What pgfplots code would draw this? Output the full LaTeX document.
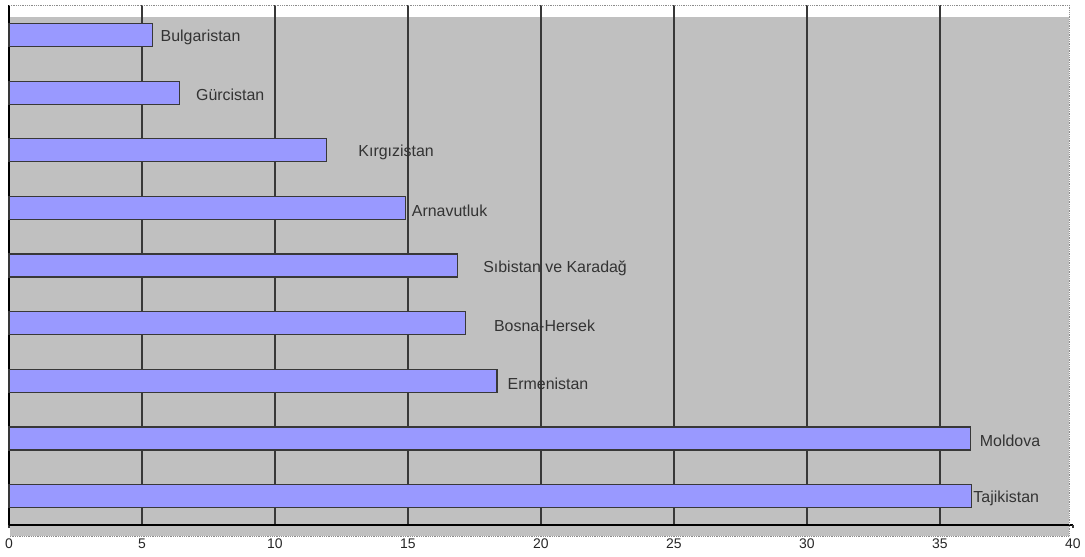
\documentclass[border=0pt]{standalone}
\usepackage{pgfplots}
\pgfplotsset{compat=1.18}
\usepackage{pgfplotstable}
\usepackage{fontspec}
\setmainfont{Liberation Sans}

\definecolor{barfill}{HTML}{9999FF}
\definecolor{plotgray}{HTML}{C0C0C0}
\definecolor{gridc}{HTML}{383838}

% value, position (1 = bottom), label, label offset in bp
\pgfplotstableread[col sep=comma]{
val,pos,label,off
36.2,1,Tajikistan,1
36.14,2,Moldova,9
18.35,3,Ermenistan,10
17.16,4,Bosna-Hersek,28
16.87,5,Sıbistan ve Karadağ,25
14.9,6,Arnavutluk,6
11.95,7,Kırgızistan,31
6.41,8,Gürcistan,16
5.38,9,Bulgaristan,8
}\datatable

\begin{document}
\begin{tikzpicture}
% chart area behind the axis (axis sits at the origin)
\fill[plotgray] (0,0) rectangle (1060bp,508bp);
\begin{axis}[
    scale only axis,
    width=1064bp, height=520bp,
    at={(0,0)}, anchor=south west,
    xmin=0, xmax=40, ymin=0.5, ymax=9.52,
    xtick={0,5,...,35},
    extra x ticks={40},
    extra x tick style={grid=none},
    ytick=\empty,
    xmajorgrids,
    major grid style={gridc, line width=1.2bp},
    axis x line*=bottom, axis y line*=left,
    axis line style={black, line width=1.2bp, -},
    tick align=outside,
    major tick length=3bp,
    tick style={gridc, line width=1.2bp},
    /pgf/number format/assume math mode=true,
    xticklabel style={font=\fontsize{14}{14}\selectfont, yshift=-7bp, text=black!85},
    clip=false,
    xbar, bar width=23bp,
]
\addplot[
    fill=barfill, draw=gridc, line width=1.2bp,
    point meta=explicit symbolic,
    visualization depends on={\thisrow{off} \as \labeloff},
    nodes near coords,
    nodes near coords style={anchor=west, inner sep=0pt, xshift=\labeloff*1bp,
        yshift=-2.5bp, text=black!80, font=\fontsize{16}{16}\selectfont},
] table[x=val, y=pos, meta=label] {\datatable};
\end{axis}
% strip of the chart area below the x axis, and its dotted frame
\fill[plotgray] (0.6bp,-11bp) rectangle (1060bp,-0.6bp);
\draw[black!45, densely dotted, line width=0.8bp]
    (0,520bp) -- (1060bp,520bp) -- (1060bp,-11bp) -- (0,-11bp);
\pgfresetboundingbox
\useasboundingbox (-9bp,-32bp) rectangle (1076bp,525bp);
\end{tikzpicture}
\end{document}
